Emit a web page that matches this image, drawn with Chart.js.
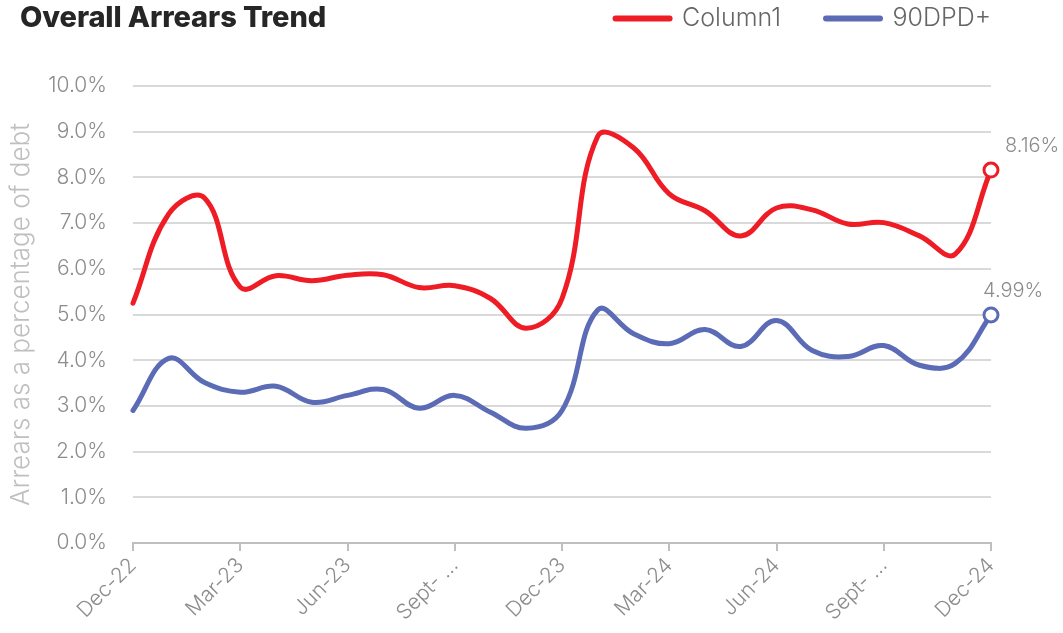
<!DOCTYPE html>
<html>
<head>
<meta charset="utf-8">
<script src="https://cdn.jsdelivr.net/npm/chart.js@4.4.1/dist/chart.umd.min.js"></script>
<style>
  html, body { margin: 0; padding: 0; background: #fff; }
  #wrap { position: relative; width: 1063px; height: 633px; }
  #title { position: absolute; left: 20px; top: 0px; line-height: 34px; font-family: Inter, "Open Sans", sans-serif; font-weight: 800; font-size: 29px; color: #262626; letter-spacing: -0.1px; }
  canvas { position: absolute; left: 0; top: 0; }
</style>
</head>
<body>
<div id="wrap">
  <canvas id="c" width="1063" height="633"></canvas>
  <div id="title">Overall Arrears Trend</div>
</div>
<script>
const categories = ['Dec-22','Jan-23','Feb-23','Mar-23','Apr-23','May-23','Jun-23','Jul-23','Aug-23','Sep-23','Oct-23','Nov-23',
  'Dec-23','Jan-24','Feb-24','Mar-24','Apr-24','May-24','Jun-24','Jul-24','Aug-24','Sep-24','Oct-24','Nov-24','Dec-24'];
const tickLabels = ['Dec-22','Mar-23','Jun-23','Sept- ...','Dec-23','Mar-24','Jun-24','Sept- ...','Dec-24'];
const column1 = [5.25, 7.2, 7.55, 5.6, 5.85, 5.74, 5.86, 5.87, 5.59, 5.63, 5.35, 4.7,
  5.35, 8.9, 8.65, 7.64, 7.27, 6.72, 7.33, 7.29, 6.98, 7.01, 6.72, 6.32, 8.16];
const dpd90 = [2.9, 4.04, 3.51, 3.3, 3.43, 3.08, 3.23, 3.36, 2.95, 3.23, 2.86, 2.51,
  2.9, 5.1, 4.58, 4.36, 4.67, 4.3, 4.87, 4.21, 4.08, 4.32, 3.89, 3.93, 4.99];
const yTicks = [0,1,2,3,4,5,6,7,8,9,10];

const FONT = 'Inter, "Open Sans", sans-serif';
const LEGEND_PAD = 45;
const lastIdx = categories.length - 1;
const radii = categories.map((_, i) => i === lastIdx ? 7 : 0);
const labelOffsets = [{ dx: 14, dy: -14 }, { dx: -8, dy: -14 }];

const endLabels = {
  id: 'endLabels',
  afterDatasetsDraw(chart) {
    const ctx = chart.ctx;
    ctx.save();
    ctx.font = '300 20px ' + FONT;
    ctx.fillStyle = '#8c8c8c';
    ctx.textAlign = 'left';
    ctx.textBaseline = 'bottom';
    chart.data.datasets.forEach((ds, di) => {
      const meta = chart.getDatasetMeta(di);
      const pt = meta.data[lastIdx];
      const o = labelOffsets[di];
      ctx.fillText(ds.data[lastIdx].toFixed(2) + '%', pt.x + o.dx, pt.y + o.dy);
    });
    ctx.restore();
  }
};

const legendSpace = {
  id: 'legendSpace',
  beforeUpdate(chart) {
    const lg = chart.legend;
    if (lg && !lg._patched) {
      const orig = lg.fit;
      lg.fit = function () { orig.call(this); this.height = 125; };
      lg._patched = true;
    }
  },
  afterLayout(chart) {
    const lg = chart.legend;
    if (lg) lg.right = lg.left + lg.width + LEGEND_PAD;
  }
};

new Chart(document.getElementById('c'), {
  type: 'line',
  data: {
    labels: categories,
    datasets: [
      { label: 'Column1', data: column1, borderColor: '#ee1c25', backgroundColor: '#ffffff',
        borderWidth: 5, tension: 0.4, borderCapStyle: 'round', pointRadius: radii, pointHoverRadius: radii,
        pointBorderWidth: 3, pointBackgroundColor: '#ffffff', pointBorderColor: '#ee1c25' },
      { label: '90DPD+', data: dpd90, borderColor: '#5b6bb5', backgroundColor: '#ffffff',
        borderWidth: 5, tension: 0.4, borderCapStyle: 'round', pointRadius: radii, pointHoverRadius: radii,
        pointBorderWidth: 3, pointBackgroundColor: '#ffffff', pointBorderColor: '#5b6bb5' }
    ]
  },
  options: {
    responsive: false,
    animation: false,
    layout: { padding: { left: 0, right: 72, top: -39, bottom: 0 } },
    plugins: {
      tooltip: { enabled: false },
      legend: {
        position: 'top', align: 'end',
        labels: {
          usePointStyle: true, pointStyle: 'line', pointStyleWidth: 54,
          font: { family: FONT, size: 25, weight: '300' }, color: '#666666',
          padding: LEGEND_PAD,
          generateLabels(chart) {
            return chart.data.datasets.map((ds, i) => ({
              text: ds.label, strokeStyle: ds.borderColor, fillStyle: ds.borderColor,
              lineWidth: 6, lineCap: 'round', pointStyle: 'line', datasetIndex: i, fontColor: '#666666'
            }));
          }
        }
      }
    },
    scales: {
      x: {
        afterFit(axis) { axis.height = 90; },
        grid: { display: true, drawOnChartArea: false, drawTicks: true, tickLength: 8, color: '#bfbfbf', lineWidth: 2 },
        border: { display: true, color: '#bfbfbf', width: 2 },
        ticks: {
          autoSkip: false, minRotation: 45, maxRotation: 45, color: '#8c8c8c', padding: 2,
          font: { family: FONT, size: 21, weight: '300' },
          callback: (v, i) => i % 3 === 0 ? tickLabels[i / 3] : null
        }
      },
      y: {
        min: 0, max: 10,
        afterFit(axis) { axis.width = 133; },
        afterBuildTicks(axis) { axis.ticks = yTicks.map(v => ({ value: v })); },
        grid: { color: '#d9d9d9', lineWidth: 2, drawTicks: false },
        border: { display: false },
        ticks: { color: '#8c8c8c', padding: 26, font: { family: FONT, size: 21, weight: '300' },
          callback: v => v.toFixed(1) + '%' },
        title: { display: true, text: 'Arrears as a percentage of debt', color: '#bfbfbf',
          font: { family: FONT, size: 26, weight: '300' }, padding: { top: 6, bottom: 2 } }
      }
    }
  },
  plugins: [endLabels, legendSpace]
});
</script>
</body>
</html>
